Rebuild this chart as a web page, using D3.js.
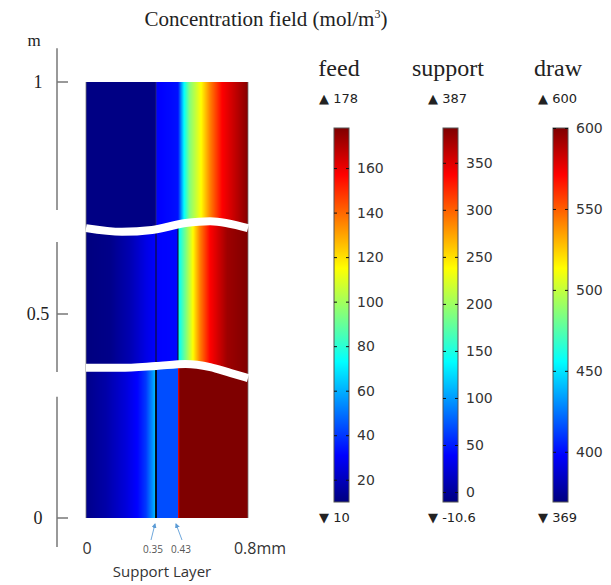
<!DOCTYPE html>
<html>
<head>
<meta charset="utf-8">
<script src="https://cdn.jsdelivr.net/npm/d3@7"></script>
<style>
  body { margin: 0; background: #fff; }
  svg { display: block; }
</style>
</head>
<body>
<div class="chart"></div>
<script>
/* globals d3 */

// left axis (m) and bottom labels (mm)
const yTicks = [0, 0.5, 1];
const yAxisParts = [[1.073, 0.724], [0.655, 0.358], [0.297, -0.071]];
const xTickValues = [0, 0.35, 0.43, 0.8];
const xTickText = ['0', '0.35', '0.43', '0.8mm'];

// colour profiles across the membrane, [x in mm, position on colour map]
const topProfile = [[0, 0.005], [0.35, 0.005], [0.35, 0.12], [0.43, 0.14], [0.462, 0.375], [0.49, 0.5],
  [0.552, 0.625], [0.6, 0.75], [0.663, 0.875], [0.784, 0.98], [0.8, 1]];
const middleProfile = [[0, 0.0], [0.12, 0.01], [0.22, 0.05], [0.3, 0.1], [0.35, 0.125], [0.43, 0.13], [0.43, 0.36],
  [0.472, 0.5], [0.509, 0.625], [0.546, 0.75], [0.6, 0.875], [0.69, 0.97], [0.8, 1]];
const bottomProfile = [[0, 0.01], [0.1, 0.04], [0.2, 0.09], [0.26, 0.13], [0.3, 0.18], [0.33, 0.26],
  [0.35, 0.32], [0.35, 0.2], [0.43, 0.2], [0.43, 0.8], [0.433, 0.92], [0.44, 1], [0.8, 1]];

// wavy breaks between the three cut-outs, [x in mm, height in m]
const upperBreak = [[0, 0.685], [0.18, 0.677], [0.33, 0.681], [0.47, 0.696], [0.6, 0.7], [0.8, 0.685]];
const lowerBreak = [[0, 0.368], [0.17, 0.368], [0.35, 0.3725], [0.47, 0.3775], [0.6, 0.37], [0.71, 0.355], [0.8, 0.343]];

// colour bars
const barNames = ['feed', 'support', 'draw'];
const barMin = [10, -10.6, 369];
const barMax = [178, 387, 600];
const barTicks = [
  [20, 40, 60, 80, 100, 120, 140, 160],
  [0, 50, 100, 150, 200, 250, 300, 350],
  [400, 450, 500, 550, 600]
];
const barMinText = ['10', '-10.6', '369'];
const barMaxText = ['178', '387', '600'];

const width = 611;
const height = 585;

const x = d3.scaleLinear().domain([0, 0.35, 0.43, 0.8]).range([86, 156, 178, 248]);
const y = d3.scaleLinear().domain([0, 0.5, 1]).range([518, 314, 82]);

const jetStops = [0, 0.125, 0.375, 0.625, 0.875, 1];
const jet = d3.scaleLinear().domain(jetStops)
  .range(['#00007f', '#0000ff', '#00ffff', '#ffff00', '#ff0000', '#7f0000']).clamp(true);

const profileAt = (p, v) => {
  let i = d3.bisectRight(p.map(d => d[0]), v) - 1;
  i = Math.max(0, Math.min(i, p.length - 2));
  const [x0, t0] = p[i];
  const [x1, t1] = p[i + 1];
  return x1 === x0 ? t1 : t0 + (t1 - t0) * (v - x0) / (x1 - x0);
};

const svg = d3.select('.chart').append('svg')
  .attr('width', width)
  .attr('height', height)
  .attr('viewBox', [0, 0, width, height]);

const defs = svg.append('defs');

svg.append('text')
  .attr('x', 266).attr('y', 26)
  .attr('text-anchor', 'middle')
  .style('font', '21px "Liberation Serif", serif')
  .attr('fill', '#222')
  .html('Concentration field (mol/m<tspan dy="-8" font-size="12">3</tspan><tspan dy="8">)</tspan>');

// ---- field ----
const panels = [
  {profile: topProfile, cut: null, lines: [0.35], stroke: 'rgba(60,60,90,0.6)', sw: 1},
  {profile: middleProfile, cut: upperBreak, lines: [0.35, 0.43], stroke: '#111', sw: 1},
  {profile: bottomProfile, cut: lowerBreak, lines: [0.35], stroke: '#000', sw: 1.8}
];

const below = d3.area()
  .x(d => x(d[0]))
  .y0(d => y(d[1]))
  .y1(y(0) + 2)
  .curve(d3.curveMonotoneX);

const breakLine = d3.line()
  .x(d => x(d[0]))
  .y(d => y(d[1]))
  .curve(d3.curveMonotoneX);

const field = svg.append('g');

panels.forEach((p, i) => {
  const grad = defs.append('linearGradient')
    .attr('id', 'grad' + i)
    .attr('gradientUnits', 'userSpaceOnUse')
    .attr('x1', x(0)).attr('x2', x(0.8))
    .attr('y1', 0).attr('y2', 0);
  const px = d3.range(x(0), x(0.8) + 0.01, 0.5);
  grad.selectAll('stop').data(px).join('stop')
    .attr('offset', d => (d - x(0)) / (x(0.8) - x(0)))
    .attr('stop-color', d => jet(profileAt(p.profile, x.invert(d))));

  const g = field.append('g');
  if (p.cut) {
    defs.append('clipPath').attr('id', 'clip' + i)
      .append('path').attr('d', below(p.cut));
    g.attr('clip-path', `url(#clip${i})`);
  }
  g.append('rect')
    .attr('x', x(0)).attr('y', y(1))
    .attr('width', x(0.8) - x(0))
    .attr('height', y(0) - y(1))
    .attr('fill', `url(#grad${i})`);
  g.selectAll('line.layer').data(p.lines).join('line')
    .attr('class', 'layer')
    .attr('x1', d => x(d)).attr('x2', d => x(d))
    .attr('y1', y(1)).attr('y2', y(0))
    .attr('stroke', p.stroke)
    .attr('stroke-width', p.sw);
});

field.selectAll('line.edge').data([0, 0.8]).join('line')
  .attr('class', 'edge')
  .attr('x1', d => x(d)).attr('x2', d => x(d))
  .attr('y1', y(1)).attr('y2', y(0))
  .attr('stroke', '#777')
  .attr('stroke-width', 0.8);

field.selectAll('path.cut').data([upperBreak, lowerBreak]).join('path')
  .attr('class', 'cut')
  .attr('d', breakLine)
  .attr('fill', 'none')
  .attr('stroke', '#fff')
  .attr('stroke-width', 8);

// ---- left axis ----
const axisX = 57;
svg.selectAll('line.axis').data(yAxisParts).join('line')
  .attr('class', 'axis')
  .attr('x1', axisX).attr('x2', axisX)
  .attr('y1', d => y(d[0])).attr('y2', d => y(d[1]))
  .attr('stroke', '#777')
  .attr('stroke-width', 1.5);

svg.selectAll('line.ytick').data(yTicks).join('line')
  .attr('class', 'ytick')
  .attr('x1', axisX).attr('x2', axisX + 11)
  .attr('y1', d => y(d)).attr('y2', d => y(d))
  .attr('stroke', '#777')
  .attr('stroke-width', 1.5);

svg.selectAll('text.ytick').data(yTicks).join('text')
  .attr('class', 'ytick')
  .attr('x', 38).attr('y', d => y(d) + 6)
  .attr('text-anchor', 'middle')
  .style('font', '18px "Liberation Serif", serif')
  .attr('fill', '#222')
  .text(d => d);

svg.append('text')
  .attr('x', 34).attr('y', 46)
  .attr('text-anchor', 'middle')
  .style('font', '17px "Liberation Serif", serif')
  .attr('fill', '#222')
  .text('m');

// ---- bottom labels ----
const small = d => d === 0.35 || d === 0.43;
const labelShift = {0: 1, 0.35: -3, 0.43: 3, 0.8: 12};

svg.selectAll('text.xtick').data(xTickValues).join('text')
  .attr('class', 'xtick')
  .attr('x', d => x(d) + labelShift[d])
  .attr('y', d => small(d) ? 553 : 554)
  .attr('text-anchor', 'middle')
  .style('font-family', '"Open Sans", sans-serif')
  .style('font-size', d => small(d) ? '10px' : '16px')
  .attr('fill', d => small(d) ? '#555' : '#333')
  .text((d, i) => xTickText[i]);

defs.append('marker')
  .attr('id', 'head')
  .attr('viewBox', '0 0 10 10')
  .attr('refX', 8).attr('refY', 5)
  .attr('markerWidth', 5).attr('markerHeight', 5)
  .attr('orient', 'auto')
  .append('path')
  .attr('d', 'M0,0L10,5L0,10z')
  .attr('fill', '#5b9bd5');

svg.selectAll('line.pointer').data([0.35, 0.43]).join('line')
  .attr('class', 'pointer')
  .attr('x1', d => x(d) + (d === 0.35 ? -5 : 4))
  .attr('y1', 540)
  .attr('x2', d => x(d) + (d === 0.35 ? -1 : -2))
  .attr('y2', 524)
  .attr('stroke', '#6fa8dc')
  .attr('stroke-width', 1)
  .attr('marker-end', 'url(#head)');

svg.append('text')
  .attr('x', 162).attr('y', 577)
  .attr('text-anchor', 'middle')
  .style('font', '15px "Open Sans", sans-serif')
  .attr('fill', '#333')
  .text('Support Layer');

// ---- colour bars ----
const barLeft = [334, 443, 553];
const barW = 15;
const barTop = 128;
const barBottom = 502;

const vgrad = defs.append('linearGradient')
  .attr('id', 'vgrad')
  .attr('x1', 0).attr('x2', 0).attr('y1', 1).attr('y2', 0);
vgrad.selectAll('stop').data(jetStops).join('stop')
  .attr('offset', d => d)
  .attr('stop-color', d => jet(d));

barNames.forEach((name, i) => {
  const bx = barLeft[i];
  const s = d3.scaleLinear().domain([barMin[i], barMax[i]]).range([barBottom, barTop]);
  const g = svg.append('g');

  g.append('text')
    .attr('x', bx + 5).attr('y', 76)
    .attr('text-anchor', 'middle')
    .style('font', '24px "Liberation Serif", serif')
    .attr('fill', '#222')
    .text(name);

  g.append('text')
    .attr('x', bx - 15).attr('y', 103)
    .style('font', '13px "DejaVu Sans", sans-serif')
    .attr('fill', '#222')
    .text('▲ ' + barMaxText[i]);

  g.append('text')
    .attr('x', bx - 15).attr('y', 522)
    .style('font', '13px "DejaVu Sans", sans-serif')
    .attr('fill', '#222')
    .text('▼ ' + barMinText[i]);

  g.append('rect')
    .attr('x', bx).attr('y', s(barMax[i]))
    .attr('width', barW)
    .attr('height', s(barMin[i]) - s(barMax[i]))
    .attr('fill', 'url(#vgrad)')
    .attr('stroke', '#555')
    .attr('stroke-width', 1);

  const left = g.append('g')
    .attr('transform', `translate(${bx},0)`)
    .call(d3.axisLeft(s).tickValues(barTicks[i]).tickSize(-3).tickFormat(''));
  const right = g.append('g')
    .attr('transform', `translate(${bx + barW},0)`)
    .call(d3.axisRight(s).tickValues(barTicks[i]).tickSize(-3).tickPadding(8));

  [left, right].forEach(a => {
    a.select('.domain').remove();
    a.selectAll('line').attr('stroke', '#111');
  });
  right.selectAll('text')
    .style('font', '14px "DejaVu Sans", sans-serif')
    .attr('fill', '#333');
});
</script>
</body>
</html>
